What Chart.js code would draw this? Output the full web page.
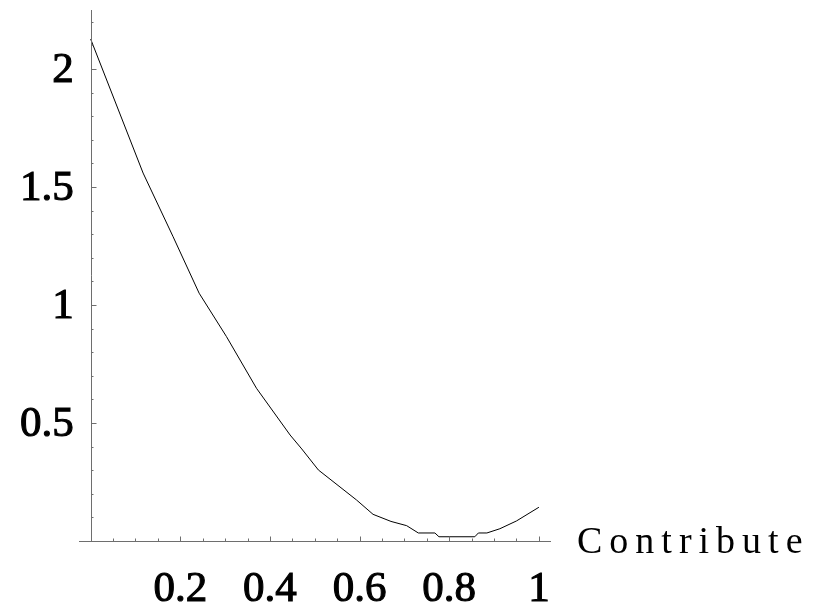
<!DOCTYPE html>
<html>
<head>
<meta charset="utf-8">
<script src="https://cdn.jsdelivr.net/npm/chart.js@4/dist/chart.umd.min.js"></script>
<style>
  html, body { margin: 0; padding: 0; background: #ffffff; }
  #wrap { width: 815px; height: 613px; }
</style>
</head>
<body>
<div id="wrap"><canvas id="c" width="815" height="613"></canvas></div>
<script>
// ---- data ----
const xValues = [0, 0.117, 0.184, 0.242, 0.303, 0.370, 0.445, 0.471, 0.508, 0.593, 0.630, 0.670, 0.705, 0.731, 0.768, 0.777, 0.857, 0.865, 0.884, 0.913, 0.950, 1.0];
const yValues = [2.127, 1.559, 1.289, 1.050, 0.866, 0.647, 0.449, 0.390, 0.301, 0.174, 0.113, 0.083, 0.065, 0.034, 0.034, 0.018, 0.018, 0.034, 0.034, 0.052, 0.085, 0.143];
const xTickValues = [0.2, 0.4, 0.6, 0.8, 1];
const xTickLabels = ['0.2', '0.4', '0.6', '0.8', '1'];
const yTickValues = [0.5, 1, 1.5, 2];
const yTickLabels = ['0.5', '1', '1.5', '2'];
const xAxisLabel = 'Contribute';

const points = xValues.map((x, i) => ({ x: x, y: yValues[i] }));

const SERIF = '"Liberation Serif", "Times New Roman", "DejaVu Serif", serif';

function heavyText(ctx, txt, x, y) {
  ctx.fillText(txt, x, y);
  ctx.strokeText(txt, x, y);
}

const axesPlugin = {
  id: 'mmaAxes',
  afterDraw(chart) {
    const ctx = chart.ctx;
    const xs = chart.scales.x, ys = chart.scales.y;
    const ax = xs.getPixelForValue(0);
    const ay = ys.getPixelForValue(0);
    const axC = Math.round(ax) + 0.5;
    const ayC = Math.round(ay) + 0.5;
    ctx.save();
    ctx.strokeStyle = '#6e6e6e';
    ctx.lineWidth = 1;
    // axis lines
    ctx.beginPath();
    ctx.moveTo(xs.getPixelForValue(xs.min), ayC);
    ctx.lineTo(xs.getPixelForValue(xs.max), ayC);
    ctx.moveTo(axC, ys.getPixelForValue(ys.max));
    ctx.lineTo(axC, ayC);
    ctx.stroke();
    // x ticks (every 0.05)
    ctx.beginPath();
    for (let k = 1; k <= 20; k++) {
      const v = k * 0.05;
      const px = Math.round(xs.getPixelForValue(v)) + 0.5;
      const major = (k % 4 === 0);
      ctx.moveTo(px, ayC);
      ctx.lineTo(px, ayC - (major ? 5 : 3));
    }
    // y ticks (every 0.1)
    for (let k = 1; k <= 22; k++) {
      const v = k * 0.1;
      const py = Math.round(ys.getPixelForValue(v)) + 0.5;
      const major = (k % 5 === 0);
      ctx.moveTo(axC, py);
      ctx.lineTo(axC + (major ? 5 : 2), py);
    }
    ctx.stroke();
    // tick labels
    ctx.fillStyle = '#000000';
    ctx.strokeStyle = '#000000';
    ctx.lineWidth = 1.1;
    ctx.font = '43px ' + SERIF;
    ctx.textBaseline = 'alphabetic';
    ctx.textAlign = 'center';
    xTickValues.forEach((v, i) => {
      heavyText(ctx, xTickLabels[i], xs.getPixelForValue(v), ayC + 59);
    });
    ctx.textAlign = 'right';
    yTickValues.forEach((v, i) => {
      heavyText(ctx, yTickLabels[i], ax - 17, ys.getPixelForValue(v) + 13);
    });
    // axis label
    ctx.font = '38px ' + SERIF;
    ctx.textAlign = 'left';
    if ('letterSpacing' in ctx) ctx.letterSpacing = '7px';
    ctx.fillText(xAxisLabel, 577, ayC + 11);
    ctx.restore();
  }
};

new Chart(document.getElementById('c'), {
  type: 'scatter',
  data: {
    datasets: [{
      data: points,
      showLine: true,
      borderColor: '#000000',
      borderWidth: 1,
      pointRadius: 0,
      tension: 0,
      fill: false
    }]
  },
  options: {
    responsive: false,
    animation: false,
    devicePixelRatio: 1,
    layout: { padding: { left: 79, right: 264, top: 10, bottom: 72 } },
    plugins: { legend: { display: false }, tooltip: { enabled: false }, title: { display: false } },
    scales: {
      x: { type: 'linear', min: -0.026, max: 1.027, display: false },
      y: { type: 'linear', min: 0, max: 2.25, display: false }
    }
  },
  plugins: [axesPlugin]
});
</script>
</body>
</html>
